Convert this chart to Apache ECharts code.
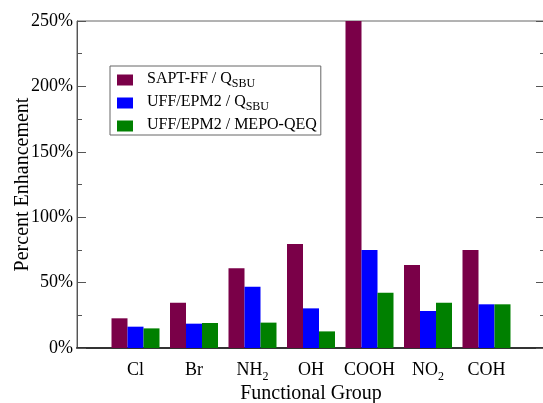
<!DOCTYPE html>
<html>
<head>
<meta charset="utf-8">
<script src="https://cdn.jsdelivr.net/npm/echarts@6/dist/echarts.min.js"></script>
<style>html,body{margin:0;padding:0;background:#fff;}#c{width:543px;height:403px;}</style>
</head>
<body>
<div id="c"></div>
<script>
var categories = ['', 'Cl', 'Br', 'NH2', 'OH', 'COOH', 'NO2', 'COH', ''];
var saptQsbu = [null, 22.7, 34.6, 60.9, 79.5, 250, 63.5, 74.9, null];
var uffQsbu = [null, 16.3, 18.6, 46.9, 30.3, 75.0, 28.3, 33.4, null];
var uffMepo = [null, 15.0, 19.1, 19.4, 12.7, 42.3, 34.6, 33.4, null];
var yTicks = [0, 50, 100, 150, 200, 250];
var seriesNames = ['SAPT-FF / Q_SBU', 'UFF/EPM2 / Q_SBU', 'UFF/EPM2 / MEPO-QEQ'];

var FONT = '"Liberation Serif", "DejaVu Serif", serif';
function sub(s) {
  var m = s.match(/^(.*?)(\d+)$/);
  if (m) return '{n|' + m[1] + '}{s|' + m[2] + '}';
  return '{n|' + s + '}';
}
function legendFmt(name) {
  var i = name.indexOf('_');
  if (i >= 0) return '{g|}{n|' + name.slice(0, i) + '}{s|' + name.slice(i + 1) + '}';
  return '{g|}{n|' + name + '}';
}
var chart = echarts.init(document.getElementById('c'), null, {renderer: 'canvas'});
var colors = ['#7a0048', '#0000ff', '#008000'];
var data = [saptQsbu, uffQsbu, uffMepo];
chart.setOption({
  animation: false,
  backgroundColor: '#fff',
  grid: {left: 77, top: 21, width: 468, height: 327, show: true, borderColor: '#666', borderWidth: 1, containLabel: false, outerBoundsMode: 'none'},
  legend: {
    orient: 'vertical', left: 110, top: 66,
    data: seriesNames,
    backgroundColor: '#fff', borderColor: '#666', borderWidth: 1,
    padding: [5, 4, 2, 7],
    itemWidth: 16, itemHeight: 11, itemGap: 4,
    icon: 'rect',
    formatter: legendFmt,
    textStyle: {
      fontFamily: FONT, fontSize: 16, color: '#000',
      rich: {
        g: {width: 9, lineHeight: 18, verticalAlign: 'top'},
        n: {fontFamily: FONT, fontSize: 16, color: '#000', lineHeight: 18, verticalAlign: 'top'},
        s: {fontFamily: FONT, fontSize: 12, color: '#000', lineHeight: 16, verticalAlign: 'top', padding: [7, 0, 0, 0]}
      }
    }
  },
  xAxis: {
    type: 'category', data: categories, boundaryGap: false,
    axisLine: {show: true, lineStyle: {color: '#333', width: 2}},
    axisTick: {show: false},
    splitLine: {show: false},
    axisLabel: {
      interval: 0, margin: 13, fontFamily: FONT, fontSize: 18, color: '#000',
      formatter: sub, verticalAlign: 'top',
      rich: {
        n: {fontFamily: FONT, fontSize: 18, color: '#000', lineHeight: 20, verticalAlign: 'top'},
        s: {fontFamily: FONT, fontSize: 12, color: '#000', lineHeight: 16, verticalAlign: 'top', padding: [10, 0, 0, 0]}
      }
    },
    name: 'Functional Group', nameLocation: 'middle', nameGap: 36, nameMoveOverlap: false,
    nameTextStyle: {fontFamily: FONT, fontSize: 20, color: '#000', lineHeight: 20}
  },
  yAxis: [{
    type: 'value', min: 0, max: 250, interval: 50,
    axisLine: {show: true, lineStyle: {color: '#555', width: 1}},
    axisTick: {show: true, inside: true, length: 9, lineStyle: {color: '#555'}},
    minorTick: {show: true, splitNumber: 2, length: 5, lineStyle: {color: '#555'}},
    splitLine: {show: false},
    axisLabel: {margin: 4, fontFamily: FONT, fontSize: 18, color: '#000', formatter: '{value}%'},
    name: 'Percent Enhancement', nameLocation: 'middle', nameGap: 44, nameMoveOverlap: false,
    nameTextStyle: {fontFamily: FONT, fontSize: 20, color: '#000', lineHeight: 20}
  }, {
    type: 'value', min: 0, max: 250, interval: 50, position: 'right',
    axisLine: {show: true, lineStyle: {color: '#555', width: 1}},
    axisTick: {show: true, inside: true, length: 9, lineStyle: {color: '#555'}},
    minorTick: {show: true, splitNumber: 2, length: 5, lineStyle: {color: '#555'}},
    splitLine: {show: false},
    axisLabel: {show: false}
  }],
  series: seriesNames.map(function (nm, i) {
    return {
      name: nm, type: 'bar', data: data[i], barWidth: 16, barGap: '0%',
      itemStyle: {color: colors[i]}, clip: true
    };
  })
});
</script>
</body>
</html>
